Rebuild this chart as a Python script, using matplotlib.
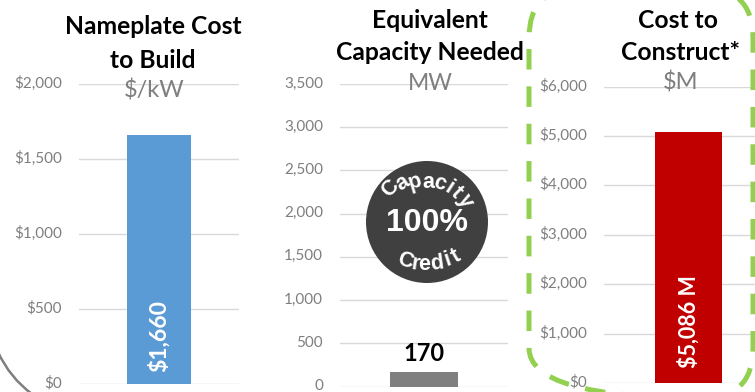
import matplotlib
matplotlib.use('Agg')
import matplotlib.pyplot as plt
from matplotlib.patches import Circle, FancyBboxPatch, PathPatch
from matplotlib.path import Path
from matplotlib.transforms import Affine2D, Bbox, ScaledTranslation

# Chart values
cost_values = [1660]
cost_ticks = [0, 500, 1000, 1500, 2000]
cost_labels = ['$0', '$500', '$1,000', '$1,500', '$2,000']

capacity_values = [170]
capacity_ticks = [0, 500, 1000, 1500, 2000, 2500, 3000, 3500]
capacity_labels = ['0', '500', '1,000', '1,500', '2,000', '2,500', '3,000', '3,500']

construct_values = [5086]
construct_ticks = [0, 1000, 2000, 3000, 4000, 5000, 6000]
construct_labels = ['$0', '$1,000', '$2,000', '$3,000', '$4,000', '$5,000', '$6,000']

W, H = 755, 392
plt.rcParams['font.family'] = ['Lato', 'DejaVu Sans']
plt.rcParams['lines.scale_dashes'] = False

fig = plt.figure(figsize=(W / 100, H / 100), dpi=100, facecolor='white')

# Pixel coordinates with the origin top left
px = Affine2D().scale(1, -1).translate(0, H)


def make_axes(x0, x1, y_top, y_bottom, values, ticks, labels, color):
    ax = fig.add_axes([x0 / W, 1 - y_bottom / H, (x1 - x0) / W, (y_bottom - y_top) / H])
    ax.bar([0], values, width=0.4, color=color, zorder=3)
    ax.set_xlim(-0.5, 0.5)
    ax.set_ylim(ticks[0], ticks[-1])
    ax.set_xticks([])
    ax.set_yticks(ticks)
    ax.set_yticklabels(labels)
    ax.tick_params(axis='y', length=0, pad=12.2, labelsize=11, labelcolor='#7f7f7f')
    ax.grid(axis='y', color='#d9d9d9', linewidth=1)
    ax.set_axisbelow(True)
    ax.patch.set_alpha(0)
    for spine in ax.spines.values():
        spine.set_visible(False)
    # tick labels sit a little above their gridlines
    shift = ScaledTranslation(0, 2 / 100, fig.dpi_scale_trans)
    for lab in ax.get_yticklabels():
        lab.set_transform(lab.get_transform() + shift)
    return ax


ax1 = make_axes(79, 239, 84, 384, cost_values, cost_ticks, cost_labels, '#5b9bd5')
ax2 = make_axes(340, 508, 84, 386.5, capacity_values, capacity_ticks, capacity_labels, '#7f7f7f')
ax3 = make_axes(604, 773, 86.5, 383, construct_values, construct_ticks, construct_labels, '#c00000')

# Bar labels
ax1.text(0, 80, '$1,660', rotation=90, ha='center', va='bottom', color='white',
         fontsize=16.5, fontweight='bold')
ax2.bar_label(ax2.containers[0], labels=['170'], padding=5, color='black',
              fontsize=17, fontweight='bold')
ax3.text(0, 300, '$5,086 M', rotation=90, ha='center', va='bottom', color='white',
         fontsize=15.5, fontweight='bold')


def label(x, y, s, size, color='black', weight='normal'):
    fig.text(x, y, s, transform=px, ha='center', va='center', fontsize=size,
             color=color, fontweight=weight, zorder=5)


# Titles and units
label(153, 27, 'Nameplate Cost', 17.7, weight='bold')
label(153, 60, 'to Build', 17.7, weight='bold')
label(154, 91, '$/kW', 17, color='#7f7f7f')
label(430, 20, 'Equivalent', 17.7, weight='bold')
label(430, 53, 'Capacity Needed', 17.7, weight='bold')
label(430, 83, 'MW', 16.5, color='#7f7f7f')
label(678, 20, 'Cost to', 17.7, weight='bold')
label(681, 53, 'Construct*', 17.7, weight='bold')
label(681, 83, '$M', 17, color='#7f7f7f')

# Capacity credit badge
fig.add_artist(Circle((427, 222), 61, transform=px, facecolor='#404040', edgecolor='none', zorder=4))
fig.text(427, 223, '100%', transform=px, ha='center', va='center', fontsize=23,
         color='white', fontweight='bold', family='Liberation Sans', zorder=5)

top_letters = list('Capacity')
top_x = [390, 403, 415, 428, 440, 449, 456, 465]
top_y = [189, 183, 182, 182, 184, 188, 193, 201]
top_rot = [48, 32, 17, 0, -18, -33, -45, -60]
for c, x, y, r in zip(top_letters, top_x, top_y, top_rot):
    fig.text(x, y, c, transform=px, ha='center', va='center', rotation=r, fontsize=15.5,
             color='white', fontweight='bold', family='Liberation Sans', zorder=5)

bottom_letters = list('Credit')
bottom_x = [405, 415, 424, 437, 448, 456]
bottom_y = [261, 264, 265, 264, 260, 256]
bottom_rot = [-17, -8, 0, 8, 18, 30]
for c, x, y, r in zip(bottom_letters, bottom_x, bottom_y, bottom_rot):
    fig.text(x, y, c, transform=px, ha='center', va='center', rotation=r, fontsize=15.5,
             color='white', fontweight='bold', family='Liberation Sans', zorder=5)

# Green dashed outline, 1 pt = 100/72 px; left and right halves keep their own dash phase
for offset, clip in [(19.9, Bbox([[0, 0], [640, H]])), (26.5, Bbox([[640, 0], [W, H]]))]:
    box = FancyBboxPatch((529, -12), 224, 410, boxstyle='round,pad=0,rounding_size=50', transform=px,
                         facecolor='none', edgecolor='#92d050', linewidth=3.6,
                         linestyle=(offset, (14.8, 12.1)), capstyle='butt', zorder=6)
    fig.add_artist(box)
    box.set_clip_box(clip)

# Grey rim in the bottom left corner
rim = Path([(-2, 352), (10, 378), (32, 394)], [Path.MOVETO, Path.CURVE3, Path.CURVE3])
fig.add_artist(PathPatch(rim, transform=px, facecolor='none', edgecolor='#7f7f7f', linewidth=1.8, zorder=6))

fig.savefig('out.png', dpi=100)
